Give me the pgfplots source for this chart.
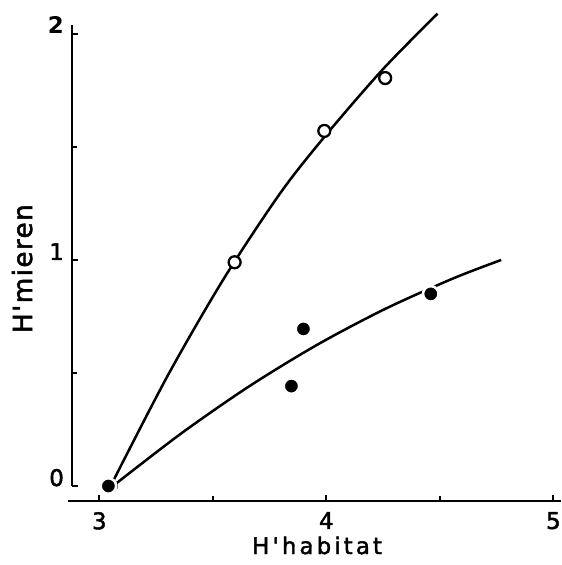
\documentclass[border=0pt]{standalone}
\usepackage{pgfplots}
\pgfplotsset{compat=1.18}
\usepackage{fontspec}
\setmainfont{DejaVu Sans}
\newfontfamily\tickfont[FakeBold=2]{DejaVu Sans}
\newfontfamily\xlabfont[LetterSpace=13.5, FakeBold=1.8]{DejaVu Sans}
\newfontfamily\ylabfont[LetterSpace=5, FakeBold=1.8]{DejaVu Sans}
\begin{document}
\begin{tikzpicture}
\begin{axis}[
  scale only axis,
  width=489bp, height=476bp,
  xmin=2.88, xmax=5.034,
  ymin=-0.0664, ymax=2.04,
  clip=false,
  axis x line*=bottom, axis y line*=left,
  axis line style={draw=none},
  xtick={3,4,5}, xticklabels={\mbox{\tickfont 3},\mbox{\tickfont 4},\mbox{\tickfont 5}},
  minor xtick={3.5,4.5},
  ytick={0,1,2}, yticklabels={\mbox{\tickfont 0},\mbox{\tickfont 1},\mbox{\bfseries 2}},
  minor ytick={0.5,1.5},
  tick align=inside,
  major tick length=6bp, minor tick length=5bp,
  every tick/.style={black, line width=1.8bp},
  /pgf/number format/assume math mode=true,
  xticklabel style={font=\fontsize{23}{25}\selectfont, inner sep=0pt, anchor=north, yshift=-11bp},
  yticklabel style={font=\fontsize{23}{25}\selectfont, inner sep=0pt, anchor=base east, xshift=-8bp},
  xlabel={\xlabfont H'habitat},
  ylabel={\ylabfont H'mieren},
  xlabel style={font=\fontsize{23}{25}\selectfont, inner sep=0pt, at={(axis description cs:0.501,-0.1114)}, anchor=base},
  ylabel style={font=\fontsize{26.5}{28}\selectfont, inner sep=0pt, at={(axis description cs:-0.0819,0.488)}, anchor=base},
]
\draw[black, line width=2.6bp] (axis cs:2.862,-0.0664) -- (axis cs:5.034,-0.0664);
\draw[black, line width=2.6bp] (axis cs:2.88,0) -- (axis cs:2.88,2.04);
% curves
\addplot[black, line width=2.5bp, smooth, no marks] coordinates {
 (3.05,0) (3.30,0.486) (3.55,0.920) (3.80,1.30) (4.00,1.555) (4.25,1.845) (4.49,2.09)};
\addplot[black, line width=2.5bp, smooth, no marks] coordinates {
 (3.06,0) (3.36,0.232) (3.66,0.441) (3.96,0.625) (4.26,0.784) (4.56,0.919) (4.77,1.0)};
% open circles
\addplot[only marks, mark=*, mark size=6pt, mark options={fill=white, draw=black, line width=2.3bp}] coordinates {
 (3.05,0) (3.596,0.99) (3.991,1.571) (4.259,1.805)};
% filled circles
\addplot[only marks, mark=*, mark size=7.8pt, mark options={fill=black, draw=white, line width=2.6bp}] coordinates {
 (3.04,0) (3.846,0.442) (3.899,0.695) (4.46,0.85)};
\coordinate (bl) at (axis cs:2.5626,-0.3496);
\coordinate (tr) at (axis cs:5.034,2.1504);
\end{axis}
\pgfresetboundingbox
\path[use as bounding box] (bl) rectangle (tr);
\end{tikzpicture}
\end{document}
